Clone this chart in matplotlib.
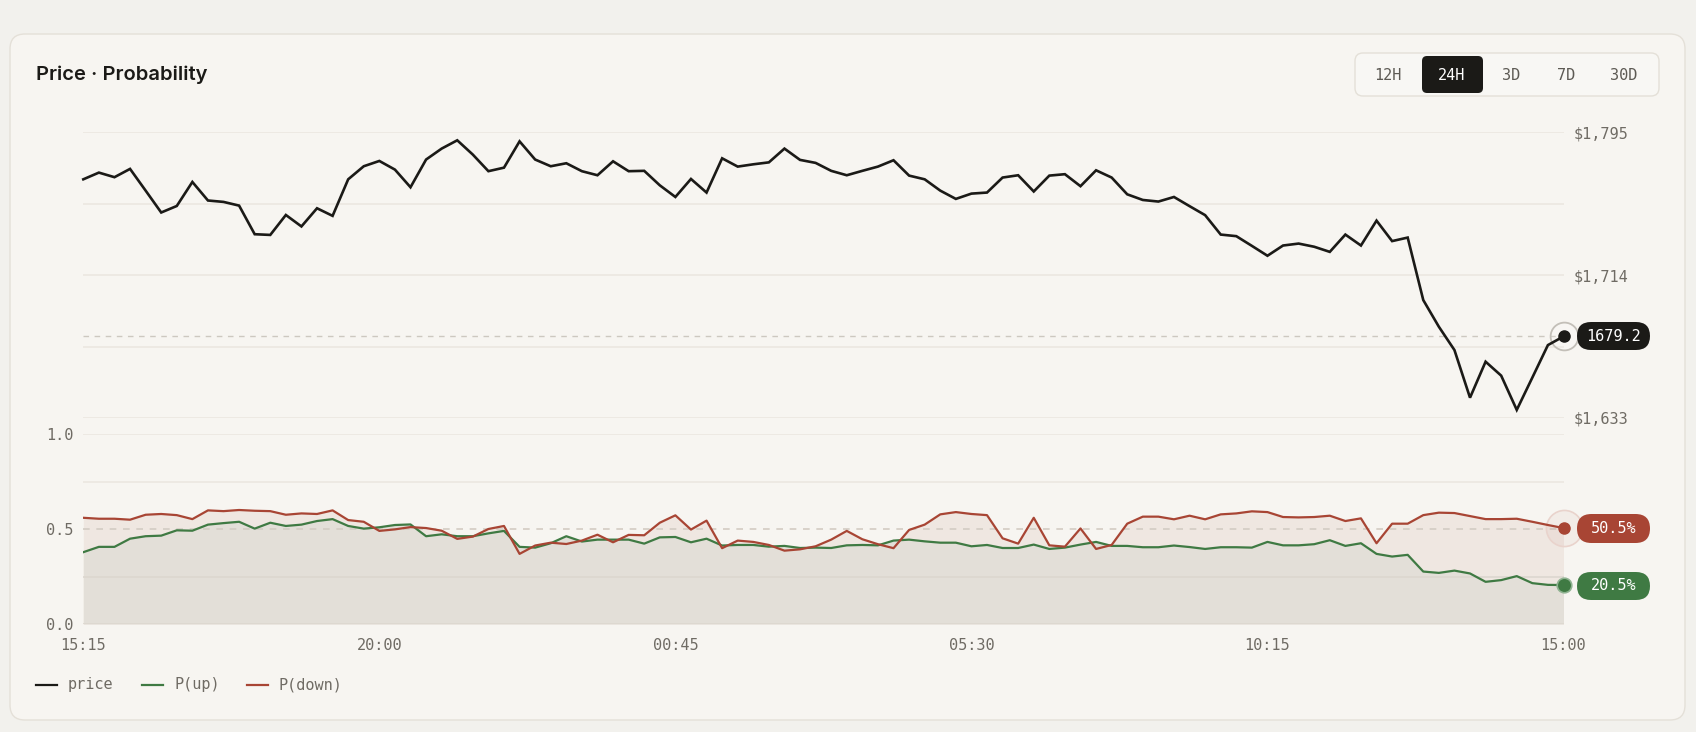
import matplotlib
matplotlib.use("Agg")
import matplotlib.pyplot as plt
from matplotlib.patches import FancyBboxPatch
from matplotlib.lines import Line2D
from matplotlib.transforms import IdentityTransform

# ---------------- data ----------------
tick_labels = ['15:15', '20:00', '00:45', '05:30', '10:15', '15:00']

price = [1768.2, 1772.0, 1769.4, 1774.1, 1761.8, 1749.4, 1753.1, 1766.7, 1756.2, 1755.4,
         1753.3, 1737.1, 1736.7, 1748.0, 1741.5, 1751.8, 1747.5, 1768.2, 1775.6, 1778.6,
         1773.7, 1763.7, 1779.4, 1785.6, 1790.3, 1782.2, 1772.8, 1774.8, 1789.7, 1779.4,
         1775.6, 1777.3, 1772.8, 1770.5, 1778.4, 1772.8, 1773.0, 1764.8, 1758.2, 1768.4,
         1760.7, 1780.1, 1775.4, 1776.7, 1777.8, 1785.6, 1779.2, 1777.5, 1773.0, 1770.5,
         1773.0, 1775.4, 1779.0, 1770.3, 1768.2, 1761.8, 1757.1, 1760.1, 1760.7, 1769.2,
         1770.5, 1761.3, 1770.3, 1771.1, 1764.3, 1773.3, 1769.2, 1759.7, 1756.5, 1755.6,
         1758.2, 1753.0, 1747.9, 1736.9, 1736.0, 1730.5, 1724.9, 1730.7, 1731.8, 1730.0,
         1727.1, 1736.9, 1730.7, 1744.8, 1733.2, 1735.2, 1699.8, 1684.7, 1671.5, 1644.5,
         1664.9, 1657.0, 1637.6, 1655.9, 1674.3, 1679.2]

p_up = [0.378, 0.406, 0.406, 0.449, 0.462, 0.465, 0.493, 0.491, 0.523, 0.531,
        0.538, 0.502, 0.533, 0.516, 0.523, 0.542, 0.552, 0.516, 0.502, 0.509,
        0.521, 0.524, 0.462, 0.472, 0.462, 0.462, 0.477, 0.490, 0.406, 0.402,
        0.425, 0.462, 0.434, 0.444, 0.444, 0.444, 0.423, 0.456, 0.458, 0.430,
        0.449, 0.413, 0.416, 0.416, 0.407, 0.411, 0.400, 0.402, 0.400, 0.414,
        0.416, 0.414, 0.439, 0.444, 0.435, 0.428, 0.428, 0.409, 0.416, 0.400,
        0.400, 0.418, 0.395, 0.402, 0.418, 0.432, 0.411, 0.411, 0.404, 0.404,
        0.413, 0.405, 0.395, 0.404, 0.404, 0.402, 0.432, 0.414, 0.414, 0.420,
        0.441, 0.411, 0.425, 0.369, 0.355, 0.364, 0.276, 0.269, 0.281, 0.266,
        0.222, 0.231, 0.252, 0.215, 0.206, 0.205]

p_down = [0.559, 0.554, 0.554, 0.549, 0.575, 0.579, 0.573, 0.552, 0.598, 0.594,
          0.600, 0.596, 0.594, 0.575, 0.582, 0.579, 0.598, 0.547, 0.538, 0.490,
          0.498, 0.510, 0.505, 0.491, 0.448, 0.460, 0.500, 0.516, 0.369, 0.413,
          0.428, 0.421, 0.439, 0.470, 0.430, 0.469, 0.467, 0.533, 0.572, 0.497,
          0.544, 0.399, 0.439, 0.432, 0.416, 0.386, 0.393, 0.409, 0.444, 0.490,
          0.446, 0.420, 0.399, 0.495, 0.523, 0.577, 0.589, 0.579, 0.573, 0.451,
          0.423, 0.559, 0.414, 0.407, 0.503, 0.395, 0.416, 0.528, 0.565, 0.565,
          0.551, 0.570, 0.551, 0.577, 0.582, 0.593, 0.589, 0.563, 0.561, 0.563,
          0.570, 0.542, 0.556, 0.425, 0.528, 0.528, 0.573, 0.586, 0.584, 0.568,
          0.552, 0.552, 0.554, 0.538, 0.521, 0.505]

price_ticks = [1633, 1673.5, 1714, 1754.5, 1795]
price_tick_labels = ['$1,633', '', '$1,714', '', '$1,795']
prob_ticks = [0.0, 0.25, 0.5, 0.75, 1.0]
prob_tick_labels = ['0.0', '', '0.5', '', '1.0']
ranges = ['12H', '24H', '3D', '7D', '30D']
active_range = '24H'

# ---------------- style ----------------
W, H = 1696, 732
MONO = ['DejaVu Sans Mono']
BG = '#f2f1ed'
CARD = '#f7f5f1'
BORDER = '#e4e0d8'
GRID = '#ebe7e1'
TXT = '#6f6b64'
INK = '#1b1a17'
RED = '#a84534'
GREEN = '#3f7a43'

x = list(range(len(price)))
tick_pos = [0, 19, 38, 57, 76, 95]

fig = plt.figure(figsize=(W / 100, H / 100), dpi=100, facecolor=BG)
ID = IdentityTransform()


def rbox(x0, y0, x1, y1, r, fc, ec='none', lw=0, z=0):
    p = FancyBboxPatch((x0, H - y1), x1 - x0, y1 - y0,
                       boxstyle=f"round,pad=0,rounding_size={r}",
                       transform=ID, facecolor=fc, edgecolor=ec, linewidth=lw,
                       zorder=z)
    fig.add_artist(p)
    return p


def ptext(xp, yp, s, **kw):
    fig.text(xp / W, 1 - yp / H, s, **kw)


# card
rbox(10, 34, 1685, 720, 15, CARD, BORDER, 1.0, z=-10)

# title
ptext(36, 75, 'Price · Probability', fontsize=14.5, fontweight='semibold',
      family=['Inter', 'DejaVu Sans'], color=INK, va='center', ha='left')

# range buttons
rbox(1355, 53, 1659, 96, 8, '#f8f7f4', BORDER, 1.0, z=1)
rbox(1422, 56, 1483, 93, 5, INK, z=2)
btn_cx = [1388, 1452, 1511, 1566, 1624]
for cx, lab in zip(btn_cx, ranges):
    ptext(cx, 75, lab, fontsize=11, family=MONO, ha='center', va='center',
          color='white' if lab == active_range else '#5d5a54', zorder=3)

# ---------------- price panel ----------------
L, R = 83.3, 1563.5
axp = fig.add_axes([L / W, 1 - 418 / H, (R - L) / W, (418 - 132) / H])
axp.set_facecolor('none')
axp.set_xlim(0, len(price) - 1)
axp.set_ylim(price_ticks[0], price_ticks[-1])
for t in price_ticks:
    axp.axhline(t, color=GRID, lw=1.2, zorder=0)
axp.axhline(price[-1], color='#cdc8c0', lw=1.0, ls=(0, (4, 4)), zorder=1)
axp.plot(x, price, color=INK, lw=1.9, zorder=3, clip_on=False,
         solid_joinstyle='miter')
axp.plot([x[-1]], [price[-1]], 'o', ms=20, mfc=(1, 1, 1, 0.15), mec='#c3bfb8',
         mew=1.3, zorder=2, clip_on=False)
axp.plot([x[-1]], [price[-1]], 'o', ms=8, color=INK, zorder=4, clip_on=False)
axp.yaxis.tick_right()
axp.set_yticks(price_ticks)
axp.set_yticklabels(price_tick_labels, family=MONO, fontsize=11, color=TXT)
axp.tick_params(axis='y', length=0, pad=7)
axp.set_xticks([])
for s in axp.spines.values():
    s.set_visible(False)

# ---------------- probability panel ----------------
axq = fig.add_axes([L / W, 1 - 624 / H, (R - L) / W, (624 - 434) / H])
axq.set_facecolor('none')
axq.set_xlim(0, len(price) - 1)
axq.set_ylim(0, 1)
axq.fill_between(x, 0, p_down, color='#efe7e1', lw=0, zorder=1)
axq.fill_between(x, 0, p_up, color='#e3dfd8', lw=0, zorder=1.1)
for t in prob_ticks:
    if t != 0.5:
        axq.axhline(t, color=GRID if t > 0.3 else '#dcd7cf', lw=1.2, zorder=1.5)
axq.axhline(0.5, color='#d3ccc3', lw=1.2, ls=(0, (4, 4)), zorder=1.6)
axq.plot(x, p_up, color=GREEN, lw=1.6, zorder=3)
axq.plot(x, p_down, color=RED, lw=1.6, zorder=3.1)
axq.plot([x[-1]], [p_down[-1]], 'o', ms=26, mfc=(0.66, 0.27, 0.2, 0.05),
         mec='#e9d3cc', mew=1.2, zorder=2, clip_on=False)
axq.plot([x[-1]], [p_down[-1]], 'o', ms=8, color=RED, zorder=4, clip_on=False)
axq.plot([x[-1]], [p_up[-1]], 'o', ms=10.5, mfc=GREEN, mec='#8fb291', mew=1.2,
         zorder=4, clip_on=False)
axq.set_yticks(prob_ticks)
axq.set_yticklabels(prob_tick_labels, family=MONO, fontsize=11, color=TXT)
axq.set_xticks(tick_pos)
axq.set_xticklabels(tick_labels, family=MONO, fontsize=11, color=TXT)
axq.tick_params(axis='both', length=0)
axq.tick_params(axis='y', pad=7)
axq.tick_params(axis='x', pad=10)
for s in axq.spines.values():
    s.set_visible(False)

# ---------------- value pills ----------------
pills = [
    (322, 350, f"{price[-1]:.1f}", INK),
    (514, 543, f"{p_down[-1] * 100:.1f}%", RED),
    (572, 600, f"{p_up[-1] * 100:.1f}%", GREEN),
]
for y0, y1, lab, col in pills:
    rbox(1577, y0, 1650, y1, (y1 - y0) / 2, col, z=5)
    ptext((1577 + 1650) / 2, (y0 + y1) / 2, lab, fontsize=11, family=MONO,
          color='white', ha='center', va='center', zorder=6)

# ---------------- legend ----------------
legend_items = [('price', INK, 36, 68), ('P(up)', GREEN, 142, 174),
                ('P(down)', RED, 247, 279)]
for lab, col, lx, tx in legend_items:
    fig.add_artist(Line2D([lx / W, (lx + 21) / W], [1 - 685 / H] * 2,
                          color=col, lw=1.6))
    ptext(tx, 685, lab, fontsize=11, family=MONO, color=TXT, va='center',
          ha='left')

fig.savefig('out.png', dpi=100, facecolor=BG)
